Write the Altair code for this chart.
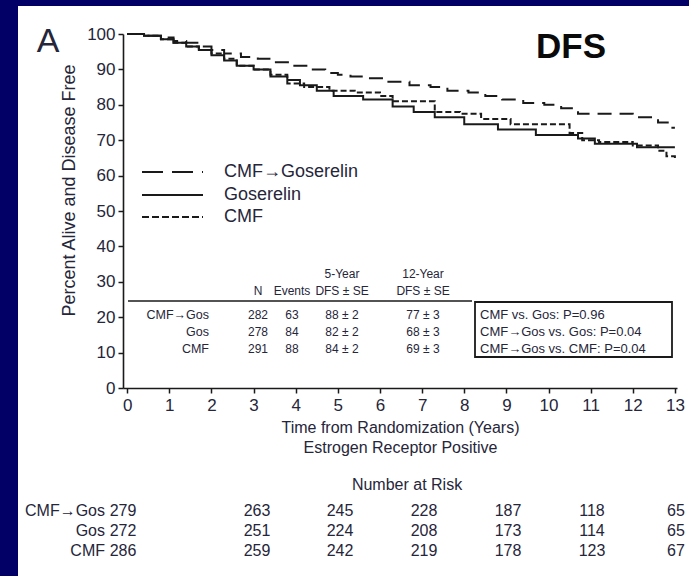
import altair as alt
import pandas as pd

# ---- survival curves (years, percent alive and disease free) ----
cmf_gos_t = [0, 0.4, 0.8, 1.1, 1.4, 1.7, 2.0, 2.3, 2.7, 3.1, 3.5, 3.9, 4.3, 4.7, 5.0, 5.3,
             5.7, 6.2, 6.7, 7.2, 7.6, 8.1, 8.5, 8.9, 9.4, 9.9, 10.3, 10.7, 12.0, 12.6, 12.9, 13.0]
cmf_gos_s = [100, 99.5, 99, 98, 97.5, 96.5, 95.5, 94.5, 93.5, 93, 92, 91, 90, 89, 88.5, 88,
             87.5, 86.5, 85.5, 85, 84, 83.5, 82.5, 81.5, 80.5, 80, 79, 77.5, 76.5, 75, 73.5, 73.5]

gos_t = [0, 0.4, 0.8, 1.1, 1.4, 1.7, 2.0, 2.3, 2.6, 3.0, 3.4, 3.8, 4.1, 4.5, 4.9, 5.6,
         6.3, 6.8, 7.3, 8.0, 8.8, 9.7, 10.7, 11.1, 12.1, 13.0]
gos_s = [100, 99.5, 98.5, 97.5, 96.5, 95.5, 94, 92.5, 91, 90, 88, 87, 85.5, 84, 82.5, 81.5,
         79.5, 78, 76.5, 74.5, 73, 71.5, 70.5, 69, 68, 68]

cmf_t = [0, 0.4, 0.8, 1.1, 1.4, 1.7, 2.0, 2.3, 2.6, 3.0, 3.4, 3.8, 4.2, 4.8, 5.4, 6.0,
         6.3, 7.3, 7.9, 8.4, 9.1, 10.5, 10.8, 11.2, 12.0, 12.6, 12.8, 13.0]
cmf_s = [100, 99.5, 98.5, 97.5, 96.5, 95.5, 94.5, 93, 91, 90, 88.5, 86, 85, 84, 83.5, 82.5,
         81, 78, 77.5, 76, 74.5, 72, 70, 69.5, 68.5, 67, 65.5, 65]

# ---- summary table ----
arm_long = ["CMF→Goserelin", "Goserelin", "CMF"]
arm_short = ["CMF→Gos", "Gos", "CMF"]
n_patients = [282, 278, 291]
n_events = [63, 84, 88]
dfs5 = [88, 82, 84]
se5 = [2, 2, 2]
dfs12 = [77, 68, 69]
se12 = [3, 3, 3]
comparisons = ["CMF vs. Gos", "CMF→Gos vs. Gos", "CMF→Gos vs. CMF"]
p_values = ["0.96", "0.04", "0.04"]

# ---- number at risk ----
risk_counts = {
    "CMF→Gos": [279, 263, 245, 228, 187, 118, 65],
    "Gos": [272, 251, 224, 208, 173, 114, 65],
    "CMF": [286, 259, 242, 219, 178, 123, 67],
}

# ---- layout ----
W, H = 554, 354
LEFT, TOP = 123, 34
XDOM = [-0.1, 13.05]
YDOM = [0, 100]
FONT = "Liberation Sans, DejaVu Sans"
INK = "#1a1a1a"
TXT = "#26263a"


def tx(px):
    """page x pixel -> years"""
    return XDOM[0] + (px - LEFT) / W * (XDOM[1] - XDOM[0])


def vy(py):
    """page y pixel -> percent"""
    return YDOM[1] - (py - TOP) / H * (YDOM[1] - YDOM[0])


xs = alt.Scale(domain=XDOM, nice=False, zero=False)
ys = alt.Scale(domain=YDOM, nice=False, zero=False)

axis_common = dict(
    labelFont=FONT, titleFont=FONT, labelColor=TXT, titleColor=TXT,
    domainColor=INK, tickColor=INK, domainWidth=1.6, tickWidth=1.5,
    tickSize=5, grid=False, titleFontWeight="normal", zindex=1,
)
x_axis = alt.Axis(
    values=list(range(14)), labelFontSize=17, labelPadding=4,
    title=["Time from Randomization (Years)", "Estrogen Receptor Positive"],
    titleFontSize=16, titlePadding=6, titleLineHeight=20, **axis_common)
y_axis = alt.Axis(
    values=list(range(0, 101, 10)), labelFontSize=17, labelPadding=3,
    title="Percent Alive and Disease Free", titleFontSize=18,
    titlePadding=8, titleY=156, **axis_common)


def X(field):
    return alt.X(field, type="quantitative", scale=xs, axis=x_axis)


def Y(field):
    return alt.Y(field, type="quantitative", scale=ys, axis=y_axis)


curves = pd.concat([
    pd.DataFrame({"x": cmf_gos_t, "y": cmf_gos_s, "arm": arm_long[0]}),
    pd.DataFrame({"x": gos_t, "y": gos_s, "arm": arm_long[1]}),
    pd.DataFrame({"x": cmf_t, "y": cmf_s, "arm": arm_long[2]}),
])

dashes = {arm_long[0]: [14, 8], arm_long[1]: [1, 0], arm_long[2]: [6, 3]}
legend_dashes = {arm_long[0]: [21, 9], arm_long[1]: [1, 0], arm_long[2]: [7, 3]}


def text_layer(df, size=14, align="center", weight="normal", color=TXT):
    return alt.Chart(df).mark_text(
        font=FONT, fontSize=size, align=align, baseline="middle",
        fontWeight=weight, color=color, clip=False
    ).encode(x=X("x"), y=Y("y"), text="text:N")


# white panel behind everything
panel = alt.Chart(pd.DataFrame({"k": [0]})).mark_rect(color="white").encode(
    x=alt.value(18 - LEFT), x2=alt.value(689 - LEFT),
    y=alt.value(6 - TOP), y2=alt.value(576 - TOP),
)

curve_layers = [
    alt.Chart(curves[curves["arm"] == arm]).mark_line(
        interpolate="step-after", color=INK, strokeWidth=2.0,
        strokeDash=dashes[arm], clip=False
    ).encode(x=X("x"), y=Y("y"))
    for arm in arm_long
]

# legend lines and labels
legend_py = [172, 195, 217]
legend_layers = [
    alt.Chart(pd.DataFrame({"x": [tx(142)], "x2": [tx(203)], "y": [vy(py)]}))
    .mark_rule(color=INK, strokeWidth=2.0, strokeDash=legend_dashes[arm])
    .encode(x=X("x"), x2="x2:Q", y=Y("y"))
    for arm, py in zip(arm_long, legend_py)
]
legend_text = text_layer(pd.DataFrame({
    "x": [tx(224)] * 3, "y": [vy(p) for p in legend_py], "text": arm_long}),
    size=18, align="left")

# summary table
row_py = [315, 332, 349]
col_px = {"N": 258, "Events": 292, "dfs5": 342, "dfs12": 423}
cells = []
for r, py in enumerate(row_py):
    cells.append((tx(col_px["N"]), vy(py), str(n_patients[r])))
    cells.append((tx(col_px["Events"]), vy(py), str(n_events[r])))
    cells.append((tx(col_px["dfs5"]), vy(py), f"{dfs5[r]} ± {se5[r]}"))
    cells.append((tx(col_px["dfs12"]), vy(py), f"{dfs12[r]} ± {se12[r]}"))
for txt, px, py in [("N", col_px["N"], 291), ("Events", col_px["Events"], 291),
                    ("5-Year", col_px["dfs5"], 274), ("DFS ± SE", col_px["dfs5"], 291),
                    ("12-Year", col_px["dfs12"], 274), ("DFS ± SE", col_px["dfs12"], 291)]:
    cells.append((tx(px), vy(py), txt))
table_cells = text_layer(pd.DataFrame(cells, columns=["x", "y", "text"]), size=12)
table_rows = text_layer(pd.DataFrame({
    "x": [tx(209)] * 3, "y": [vy(p) for p in row_py], "text": arm_short}),
    size=12.5, align="right")
table_line = alt.Chart(pd.DataFrame({"x": [tx(128)], "x2": [tx(472)], "y": [vy(301)]})).mark_rule(
    color=INK, strokeWidth=1.6).encode(x=X("x"), x2="x2:Q", y=Y("y"))

# p-value box
pbox = alt.Chart(pd.DataFrame({"x": [tx(475)], "x2": [tx(672)], "y": [vy(302)], "y2": [vy(357)]})).mark_rect(
    fill=None, stroke=INK, strokeWidth=1.8, clip=False).encode(
    x=X("x"), x2="x2:Q", y=Y("y"), y2="y2:Q")
ptext = text_layer(pd.DataFrame({
    "x": [tx(480)] * 3, "y": [vy(p) for p in row_py],
    "text": [f"{c}: P={p}" for c, p in zip(comparisons, p_values)]}),
    size=13, align="left")

# panel letter and endpoint label
letter = text_layer(pd.DataFrame({"x": [tx(48)], "y": [vy(42)], "text": ["A"]}),
                    size=34, color=TXT)
endpoint = text_layer(pd.DataFrame({"x": [tx(571)], "y": [vy(47)], "text": ["DFS"]}),
                      size=35, weight="bold", color="#0a0a0a")

# number at risk
risk_px = [123, 257, 340, 424, 508, 592, 676]
risk_rows_py = [511, 531, 551]
risk_cells = [(tx(407), vy(485), "Number at Risk")]
risk_labels = []
for name, py in zip(risk_counts, risk_rows_py):
    risk_labels.append((tx(105), vy(py), name))
    for px, v in zip(risk_px, risk_counts[name]):
        risk_cells.append((tx(px), vy(py), str(v)))
risk_text = text_layer(pd.DataFrame(risk_cells, columns=["x", "y", "text"]), size=16)
risk_names = text_layer(pd.DataFrame(risk_labels, columns=["x", "y", "text"]),
                        size=16, align="right")

chart = alt.layer(
    panel, *curve_layers, *legend_layers, legend_text, table_line, table_cells,
    table_rows, pbox, ptext, letter, endpoint, risk_text, risk_names,
).properties(
    width=W, height=H,
    autosize=alt.AutoSizeParams(type="none"),
    padding={"left": LEFT, "top": TOP, "right": 689 - LEFT - W, "bottom": 576 - TOP - H},
    background="#020066",
).configure_view(stroke=None)

chart.save("out.html", embed_options={"renderer": "svg", "actions": False})
